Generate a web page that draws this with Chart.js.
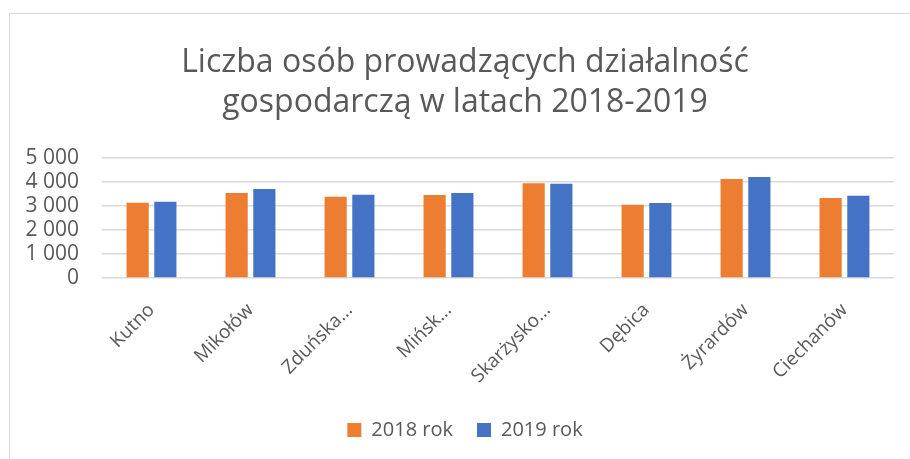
<!DOCTYPE html>
<html>
<head>
<meta charset="utf-8">
<script src="https://cdn.jsdelivr.net/npm/chart.js@4"></script>
<style>
  html, body { margin: 0; padding: 0; background: #fff; overflow: hidden; }
  #box {
    position: absolute; left: 9px; top: 13px;
    width: 912px; height: 460px;
    border: 1.5px solid #d9d9d9; box-sizing: border-box;
  }
</style>
</head>
<body>
<div id="box"><canvas id="myChart"></canvas></div>
<script>
// dane z wykresu
const miasta = ['Kutno', 'Mikołów', 'Zduńska Wola', 'Mińsk Mazowiecki', 'Skarżysko-Kamienna', 'Dębica', 'Żyrardów', 'Ciechanów'];
const rok2018 = [3140, 3540, 3390, 3460, 3945, 3055, 4125, 3335];
const rok2019 = [3180, 3710, 3470, 3540, 3930, 3125, 4210, 3430];
const yTicks = [0, 1000, 2000, 3000, 4000, 5000];

const szary = '#595959';
const font = "'Open Sans', sans-serif";

const ctx = document.getElementById('myChart');
const myChart = new Chart(ctx, {
    type: 'bar',
    data: {
        labels: miasta,
        datasets: [{
            label: '2018 rok',
            data: rok2018,
            backgroundColor: '#ED7D31',
            categoryPercentage: 0.56,
            barPercentage: 0.8
        }, {
            label: '2019 rok',
            data: rok2019,
            backgroundColor: '#4472C4',
            categoryPercentage: 0.56,
            barPercentage: 0.8
        }]
    },
    options: {
        responsive: true,
        maintainAspectRatio: false,
        animation: false,
        layout: { padding: { left: 0, right: 0, top: 29, bottom: 22 } },
        plugins: {
            title: {
                display: true,
                text: ['Liczba osób prowadzących działalność', 'gospodarczą w latach 2018-2019'],
                color: szary,
                font: { family: font, size: 32, weight: 'normal', lineHeight: 1.25 },
                padding: { top: 0, bottom: 35 }
            },
            legend: {
                position: 'bottom',
                labels: {
                    color: szary,
                    font: { family: font, size: 20 },
                    boxWidth: 14,
                    boxHeight: 14,
                    padding: 24
                }
            },
            tooltip: { enabled: false }
        },
        scales: {
            x: {
                grid: { display: false },
                border: { display: false },
                afterFit: (ax) => { ax.height = 118; ax.paddingLeft = 0; ax.paddingRight = 26; },
                ticks: {
                    color: szary,
                    font: { family: font, size: 19 },
                    maxRotation: 45,
                    minRotation: 45,
                    padding: 13,
                    callback: function (v) {
                        const s = this.getLabelForValue(v);
                        const cz = s.split(/[ -]/);
                        return cz.length > 1 ? cz[0] + '...' : s;
                    }
                }
            },
            y: {
                min: 0,
                max: 5000,
                afterBuildTicks: (ax) => { ax.ticks = yTicks.map(v => ({ value: v })); },
                afterFit: (ax) => { ax.width = 92; },
                grid: { color: '#d9d9d9', lineWidth: 1.5, drawTicks: false },
                border: { display: false },
                ticks: {
                    color: szary,
                    font: { family: font, size: 21 },
                    padding: 23,
                    autoSkip: false,
                    callback: (v) => v.toString().replace(/\B(?=(\d{3})+(?!\d))/g, ' ')
                }
            }
        }
    }
});
</script>
</body>
</html>
